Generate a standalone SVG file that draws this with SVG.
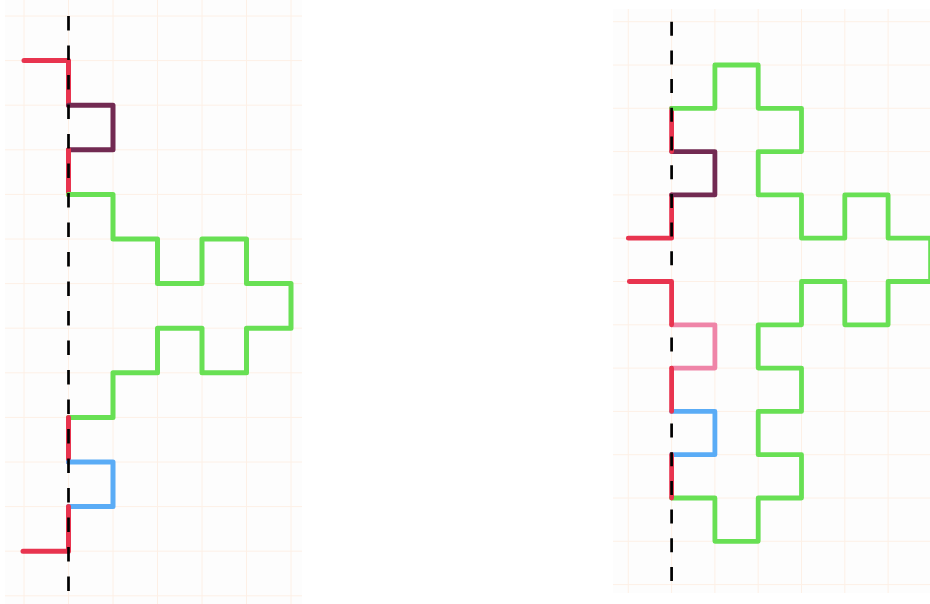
<svg xmlns="http://www.w3.org/2000/svg" width="930" height="604" viewBox="0 0 930 604">
<style>
.bg{fill:#fdfdfd}
.grid{stroke:#fdf0e6;stroke-width:1;fill:none}
.p{fill:none;stroke-linecap:round;stroke-linejoin:round}
.l{stroke-width:5}
.r{stroke-width:4.8}
.red{stroke:#e8344f}
.pur{stroke:#722a52}
.grn{stroke:#68e054}
.blu{stroke:#5aacf6}
.pnk{stroke:#ef85a8}
.dash{stroke:#000;stroke-width:2.7;fill:none}
</style>
<rect width="930" height="604" fill="#ffffff"/>
<g id="left-panel">
<rect class="bg" x="5" y="0" width="297" height="604"/>
<path class="grid" d="M24 0V604M68.5 0V604M113 0V604M157.5 0V604M202 0V604M246.5 0V604M291 0V604
M5 16H302M5 60.6H302M5 105.2H302M5 149.8H302M5 194.4H302M5 239H302M5 283.6H302M5 328.2H302M5 372.8H302M5 417.4H302M5 462H302M5 506.6H302M5 551.2H302M5 595.8H302"/>
<path class="p l red" d="M24 60.6H68.5V105.2"/>
<path class="p l pur" d="M68.5 105.2H113V149.8H68.5"/>
<path class="p l red" d="M68.5 149.8V194.4"/>
<path class="p l grn" d="M68.5 194.4H113V239H157.5V283.6H202V239H246.5V283.6H291V328.2H246.5V372.8H202V328.2H157.5V372.8H113V417.4H68.5"/>
<path class="p l red" d="M68.5 417.4V462"/>
<path class="p l blu" d="M68.5 462H113V506.6H68.5"/>
<path class="p l red" d="M68.5 506.6V551.2H23"/>
<path class="dash" d="M68.5 16V600" stroke-dasharray="14.5 15"/>
</g>
<g id="right-panel">
<rect class="bg" x="613" y="9" width="317" height="584"/>
<path class="grid" d="M628.3 9V593M671.6 9V593M714.9 9V593M758.2 9V593M801.5 9V593M844.8 9V593M888.1 9V593
M613 21.7H930M613 65H930M613 108.3H930M613 151.6H930M613 194.9H930M613 238.2H930M613 281.5H930M613 324.8H930M613 368.1H930M613 411.4H930M613 454.7H930M613 498H930M613 541.3H930M613 584.6H930"/>
<path class="p r red" d="M628.3 238.2H671.6V194.9"/>
<path class="p r pur" d="M671.6 194.9H714.9V151.6H671.6"/>
<path class="p r red" d="M671.6 151.6V108.3"/>
<path class="p r grn" d="M671.6 108.3H714.9V65H758.2V108.3H801.5V151.6H758.2V194.9H801.5V238.2H844.8V194.9H888.1V238.2H930.6V281.5H888.1V324.8H844.8V281.5H801.5V324.8H758.2V368.1H801.5V411.4H758.2V454.7H801.5V498H758.2V541.3H714.9V498H671.6"/>
<path class="p r pnk" d="M671.6 324.8H714.9V368.1H671.6"/>
<path class="p r blu" d="M671.6 411.4H714.9V454.7H671.6"/>
<path class="p r red" d="M671.6 454.7V498"/>
<path class="dash" d="M671.6 21.7V584" stroke-dasharray="14 14.7"/>
<path class="p r red" d="M629.3 281.5H671.6V324.8"/>
<path class="p r red" d="M671.6 368.1V411.4"/>
</g>
</svg>
